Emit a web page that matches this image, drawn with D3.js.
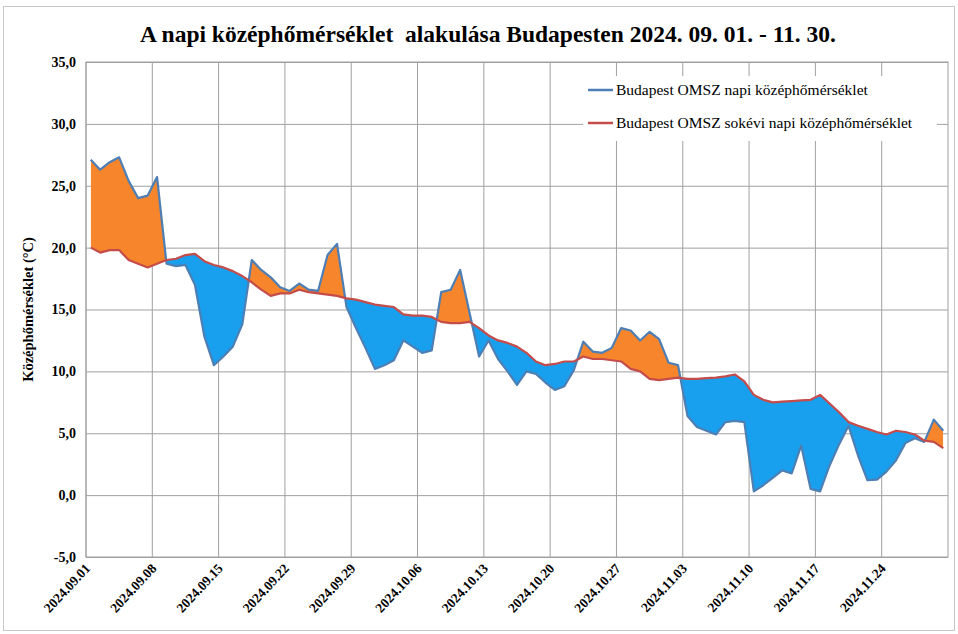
<!DOCTYPE html>
<html>
<head>
<meta charset="utf-8">
<script src="https://cdn.jsdelivr.net/npm/d3@7"></script>
<style>
  body { margin: 0; background: #fff; }
  svg text { font-family: "Liberation Serif", "Times New Roman", serif; }
  .axis path { display: none; }
  .axis line { stroke: #a0a0a0; }
</style>
</head>
<body>
<svg id="chart" width="958" height="634"></svg>
<script>
// napi középhőmérséklet (Budapest OMSZ), 2024.09.01 - 2024.11.30
var daily = [
  27.1, 26.3, 26.9, 27.3, 25.4, 24.0, 24.2, 25.7, 18.7, 18.5,
  18.6, 17.0, 12.8, 10.5, 11.2, 12.0, 13.8, 19.0, 18.2, 17.6,
  16.8, 16.5, 17.1, 16.6, 16.5, 19.4, 20.3, 15.2, 13.5, 11.9,
  10.2, 10.5, 10.9, 12.5, 12.0, 11.5, 11.7, 16.4, 16.6, 18.2,
  14.7, 11.2, 12.5, 11.0, 10.0, 8.9, 10.0, 9.8, 9.1, 8.5,
  8.8, 10.1, 12.4, 11.6, 11.5, 11.9, 13.5, 13.3, 12.5, 13.2,
  12.6, 10.7, 10.5, 6.4, 5.5, 5.2, 4.9, 5.9, 6.0, 5.9,
  0.3, 0.8, 1.4, 2.0, 1.75, 4.0, 0.5, 0.3, 2.4, 4.1,
  5.6, 3.2, 1.2, 1.25, 1.9, 2.8, 4.2, 4.6, 4.3, 6.1,
  5.2
];

// sokévi napi középhőmérséklet
var normal = [
  20.0, 19.6, 19.8, 19.8, 19.0, 18.7, 18.4, 18.7, 19.0, 19.1,
  19.4, 19.5, 18.9, 18.6, 18.4, 18.1, 17.7, 17.2, 16.6, 16.1,
  16.3, 16.3, 16.6, 16.4, 16.3, 16.2, 16.1, 15.9, 15.8, 15.6,
  15.4, 15.3, 15.2, 14.6, 14.5, 14.5, 14.4, 14.0, 13.9, 13.9,
  14.0, 13.5, 12.9, 12.5, 12.3, 12.0, 11.5, 10.8, 10.5, 10.6,
  10.8, 10.8, 11.2, 11.0, 11.0, 10.9, 10.8, 10.2, 10.0, 9.4,
  9.3, 9.4, 9.5, 9.4, 9.4, 9.45, 9.5, 9.6, 9.75, 9.2,
  8.1, 7.7, 7.5, 7.55, 7.6, 7.65, 7.7, 8.1, 7.4, 6.7,
  5.9, 5.6, 5.35, 5.1, 4.9, 5.2, 5.1, 4.9, 4.4, 4.3,
  3.8
];

var tickLabels = ["2024.09.01", "2024.09.08", "2024.09.15", "2024.09.22", "2024.09.29",
  "2024.10.06", "2024.10.13", "2024.10.20", "2024.10.27", "2024.11.03",
  "2024.11.10", "2024.11.17", "2024.11.24"];
var yTicks = [-5, 0, 5, 10, 15, 20, 25, 30, 35];

var seriesNames = ["Budapest OMSZ napi középhőmérséklet", "Budapest OMSZ sokévi napi középhőmérséklet"];

var fmt = d3.timeFormat("%Y.%m.%d");
var days = d3.timeDay.range(new Date(2024, 8, 1), new Date(2024, 11, 1)).map(fmt);

var data = days.map(function(d, i) {
  return {day: d, t: daily[i], n: normal[i]};
});

var svg = d3.select("#chart");
var pLeft = 86, pRight = 948, pTop = 62, pBottom = 557;

// frame
svg.append("rect")
  .attr("x", 3.5).attr("y", 6.5)
  .attr("width", 951).attr("height", 624)
  .attr("fill", "none").attr("stroke", "#c8c8c8");

svg.append("text")
  .attr("x", 488).attr("y", 42)
  .attr("text-anchor", "middle")
  .attr("font-size", 23.5).attr("font-weight", "bold")
  .attr("xml:space", "preserve")
  .text("A napi középhőmérséklet  alakulása Budapesten 2024. 09. 01. - 11. 30.");

var x = d3.scaleBand().domain(days).range([pLeft, pRight]);
var bw = x.bandwidth();
var xc = function(d) { return x(d.day) + bw / 2; };
var y = d3.scaleLinear().domain([-5, 35]).range([pBottom, pTop]);

// y grid + labels
svg.append("g")
  .attr("class", "axis")
  .attr("transform", "translate(" + pLeft + ",0)")
  .call(d3.axisLeft(y).tickValues(yTicks).tickSize(-(pRight - pLeft)).tickPadding(10)
    .tickFormat(function(d) { return d.toFixed(1).replace(".", ","); }))
  .call(function(g) {
    g.selectAll("text").attr("font-size", 14).attr("font-weight", "bold").attr("fill", "#000")
      .style("font-family", "Liberation Serif");
  });

// x grid at the left edge of each week
svg.append("g")
  .attr("class", "axis")
  .attr("transform", "translate(" + (-bw / 2) + "," + pBottom + ")")
  .call(d3.axisBottom(x).tickValues(tickLabels)
    .tickSize(-(pBottom - pTop)).tickFormat(""));

// x labels
svg.append("g").selectAll("text")
  .data(tickLabels)
  .enter().append("text")
  .attr("transform", function(d) {
    return "translate(" + (x(d) + 5) + "," + (pBottom + 12) + ") rotate(-47)";
  })
  .attr("text-anchor", "end")
  .attr("font-size", 13.5).attr("font-weight", "bold")
  .text(function(d) { return d; });

// plot border
svg.append("rect")
  .attr("x", pLeft).attr("y", pTop)
  .attr("width", pRight - pLeft).attr("height", pBottom - pTop)
  .attr("fill", "none").attr("stroke", "#a0a0a0");

svg.append("text")
  .attr("transform", "translate(33," + ((pTop + pBottom) / 2) + ") rotate(-90)")
  .attr("text-anchor", "middle")
  .attr("font-size", 14.5).attr("font-weight", "bold")
  .text("Középhőmérséklet (°C)");

// difference chart: clip above / below the normal line
var defs = svg.append("defs");
defs.append("clipPath").attr("id", "above").append("path")
  .attr("d", d3.area().x(xc).y0(pTop).y1(function(d) { return y(d.n); })(data));
defs.append("clipPath").attr("id", "below").append("path")
  .attr("d", d3.area().x(xc).y0(pBottom).y1(function(d) { return y(d.n); })(data));

var between = d3.area().x(xc)
  .y0(function(d) { return y(d.n); })
  .y1(function(d) { return y(d.t); });

svg.append("path").datum(data)
  .attr("clip-path", "url(#above)")
  .attr("fill", "#f7852b")
  .attr("d", between);

svg.append("path").datum(data)
  .attr("clip-path", "url(#below)")
  .attr("fill", "#18a0ef")
  .attr("d", between);

svg.append("path").datum(data)
  .attr("fill", "none").attr("stroke", "#4d7fb5").attr("stroke-width", 2.2)
  .attr("stroke-linejoin", "round")
  .attr("d", d3.line().x(xc).y(function(d) { return y(d.t); }));

svg.append("path").datum(data)
  .attr("fill", "none").attr("stroke", "#c44c4a").attr("stroke-width", 2.2)
  .attr("stroke-linejoin", "round")
  .attr("d", d3.line().x(xc).y(function(d) { return y(d.n); }));

// legend
var legend = svg.append("g");
legend.append("rect")
  .attr("x", 583).attr("y", 76).attr("width", 354).attr("height", 65)
  .attr("fill", "#fff");
var colors = ["#4d7fb5", "#c44c4a"];
seriesNames.forEach(function(name, i) {
  var ly = 90 + i * 33;
  legend.append("line")
    .attr("x1", 588).attr("x2", 613).attr("y1", ly).attr("y2", ly)
    .attr("stroke", colors[i]).attr("stroke-width", 2.5);
  legend.append("text")
    .attr("x", 616).attr("y", ly + 5)
    .attr("font-size", 15.5)
    .text(name);
});
</script>
</body>
</html>
